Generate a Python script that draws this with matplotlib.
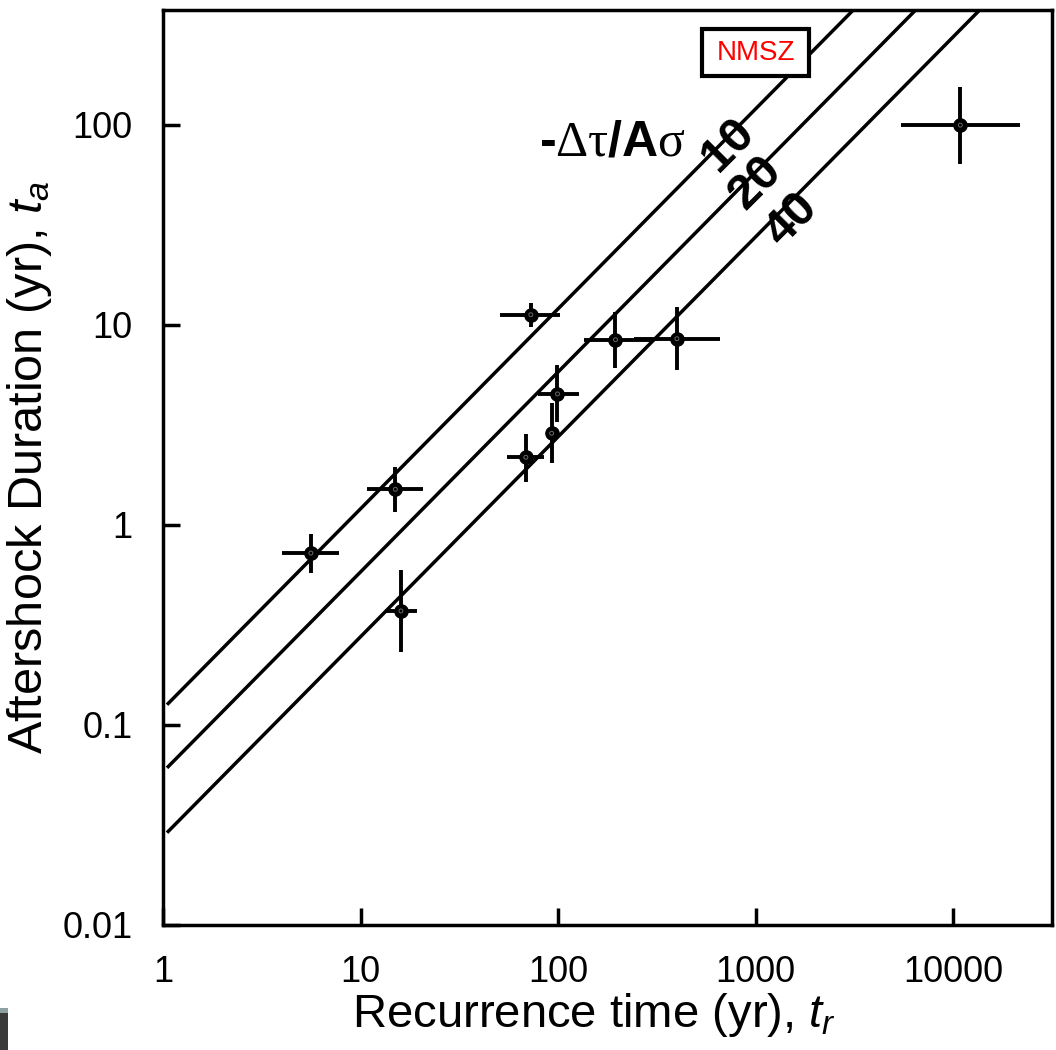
import numpy as np
import matplotlib
matplotlib.use("Agg")
import matplotlib.pyplot as plt
from matplotlib.patches import Rectangle

plt.rcParams['font.family'] = ['Liberation Sans', 'DejaVu Sans']
plt.rcParams['mathtext.fontset'] = 'custom'
plt.rcParams['mathtext.rm'] = 'Liberation Serif'
plt.rcParams['mathtext.it'] = 'Liberation Sans:italic'
plt.rcParams['mathtext.bf'] = 'Liberation Sans:bold'

# ---- data ----
tr = [5.6, 15.0, 16.0, 72.7, 195.0, 399.0, 99.2, 92.7, 68.6, 10850.0]
ta = [0.72, 1.50, 0.37, 11.2, 8.4, 8.5, 4.5, 2.86, 2.17, 99.4]
tr_lo = [4.0, 10.8, 13.3, 50.9, 135.0, 243.0, 78.6, 92.7, 55.0, 5420.0]
tr_hi = [7.8, 20.8, 19.3, 102.0, 292.0, 661.0, 127.0, 92.7, 84.9, 21800.0]
ta_lo = [0.57, 1.15, 0.23, 9.75, 6.1, 5.9, 3.27, 2.02, 1.64, 63.2]
ta_hi = [0.90, 1.95, 0.59, 12.85, 11.5, 12.2, 6.28, 4.04, 2.84, 154.0]

line_labels = ['10', '20', '40']            # -Δτ/Aσ
line_ta_at_tr1 = [0.12, 0.058, 0.0275]     # t_a at t_r = 1 for each line

xticks = [1, 10, 100, 1000, 10000]
xticklabels = ['1', '10', '100', '1000', '10000']
yticks = [0.01, 0.1, 1, 10, 100]
yticklabels = ['0.01', '0.1', '1', '10', '100']

# ---- figure ----
fig = plt.figure(figsize=(10.56, 10.50), dpi=100)
ax = fig.add_axes([0.1544, 0.1195, 0.8419, 0.8714])
ax.set_xscale('log')
ax.set_yscale('log')
ax.set_xlim(1, 10 ** 4.5)
ax.set_ylim(0.01, 376)

lw = 2.5
tr_a = np.array(tr); ta_a = np.array(ta)
xerr = [tr_a - np.array(tr_lo), np.array(tr_hi) - tr_a]
yerr = [ta_a - np.array(ta_lo), np.array(ta_hi) - ta_a]

# theoretical lines
tgrid = np.logspace(0.02, 4.5, 200)
for c in line_ta_at_tr1:
    ax.plot(tgrid, c * tgrid, color='black', lw=lw, zorder=2, solid_capstyle='butt')

ax.errorbar(tr_a, ta_a, xerr=xerr, yerr=yerr, fmt='o', color='black',
            ms=9.5, mfc='black', mec='black', elinewidth=lw + 0.3, capsize=0, zorder=3)
ax.scatter(tr_a, ta_a, s=8, facecolors='none', edgecolors='#6a6a6a',
           linewidths=0.7, zorder=4)

ax.set_xticks(xticks)
ax.set_xticklabels(xticklabels)
ax.set_yticks(yticks)
ax.set_yticklabels(yticklabels)
ax.minorticks_off()
ax.tick_params(axis='both', which='major', direction='in', length=12, width=lw,
               labelsize=26, pad=22, top=False, right=False)

for s in ax.spines.values():
    s.set_linewidth(lw)

ax.set_xlabel('Recurrence time (yr), $t_r$', fontsize=34, labelpad=2)
ax.xaxis.set_label_coords(0.485, -0.073)
ax.set_ylabel('Aftershock Duration (yr), $t_a$', fontsize=35, labelpad=6)

# annotations
ax.text(0.505, 0.840, r'-$\mathrm{\Delta\tau}\mathbf{/A}\mathrm{\sigma}$',
        transform=ax.transAxes, fontsize=36, fontweight='bold',
        ha='center', va='baseline')
label_pos = [(0.636, 0.852), (0.667, 0.810), (0.707, 0.770)]
for lab, (px, py) in zip(line_labels, label_pos):
    ax.text(px, py, lab, transform=ax.transAxes, fontsize=35, fontweight='bold',
            rotation=45, rotation_mode='anchor', ha='center', va='center', zorder=6)

ax.add_patch(Rectangle((0.6063, 0.9269), 0.1204, 0.0514, transform=ax.transAxes,
                       facecolor='white', edgecolor='black', lw=lw + 0.5, zorder=5))
ax.text(0.6665, 0.9525, 'NMSZ', transform=ax.transAxes, color='#ff0000',
        fontsize=20, ha='center', va='center', zorder=6)

# small artifact at lower-left corner
fig.patches.append(Rectangle((0, 0.0), 8 / 1056, 40 / 1050, transform=fig.transFigure,
                             facecolor='#3a3a3a', edgecolor='none'))
fig.patches.append(Rectangle((0, 37 / 1050), 8 / 1056, 5 / 1050, transform=fig.transFigure,
                             facecolor='#8fa0a0', edgecolor='none'))

fig.savefig('out.png', dpi=100)
